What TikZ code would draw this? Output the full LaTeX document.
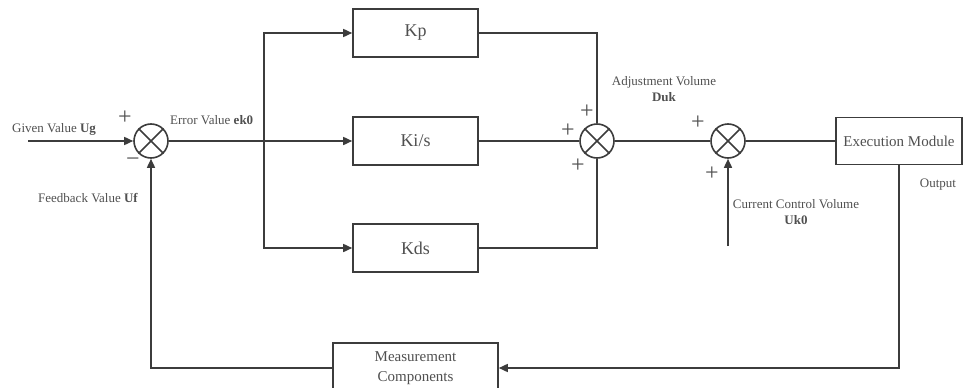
\documentclass[tikz,border=0pt]{standalone}
\usepackage{fontspec}
\setmainfont{Liberation Serif}
\usetikzlibrary{arrows.meta}
\definecolor{ink}{HTML}{3C3C3C}
\definecolor{txt}{HTML}{505050}
\begin{document}
\begin{tikzpicture}[x=1pt,y=-1pt,
  every node/.style={text=txt, inner sep=0pt},
  line/.style={draw=ink, line width=1.6pt},
  arr/.style={line, -{Triangle[length=9pt,width=8pt]}},
  blk/.style={line, fill=white, minimum height=48pt, align=center},
  kblk/.style={blk, minimum width=125pt, font=\fontsize{18}{20}\selectfont},
  sumj/.style={line, circle, minimum size=34pt},
  lbl/.style={font=\fontsize{13}{16}\selectfont, align=center},
  sgn/.style={font=\fontsize{24}{24}\selectfont}]
\useasboundingbox (0,0) rectangle (964,388);

% summing junctions
\node[sumj] (s1) at (151,141) {};
\node[sumj] (s2) at (597,141) {};
\node[sumj] (s3) at (728,141) {};
\foreach \s in {s1,s2,s3}{
  \draw[line] (\s.north west) -- (\s.south east);
  \draw[line] (\s.north east) -- (\s.south west);
}

% PID branches
\node[kblk] (kp) at (415.5,33) {Kp};
\node[kblk] (ki) at (415.5,141) {Ki/s};
\node[kblk] (kd) at (415.5,248) {Kds};

% plant and sensor
\node[blk, minimum width=126pt, minimum height=47pt, font=\fontsize{15}{17}\selectfont] (ex) at (899,141) {Execution Module};
\node[blk, minimum width=165pt, minimum height=50pt, font=\fontsize{15}{19}\selectfont] (ms) at (415.5,368) {Measurement\\[1pt]Components};

% free ends
\coordinate (in) at (28,141);
\coordinate (jn) at (264,141);
\coordinate (cc) at (728,246);

% connectors
\draw[arr] (in) -- (s1.west);
\draw[arr] (s1.east) -- (ki.west);
\draw[arr] (jn) |- (kp.west);
\draw[arr] (jn) |- (kd.west);
\draw[line] (kp.east) -| (s2.north);
\draw[line] (ki.east) -- (s2.west);
\draw[line] (kd.east) -| (s2.south);
\draw[line] (s2.east) -- (s3.west);
\draw[line] (s3.east) -- (ex.west);
\draw[arr] (cc) -- (s3.south);
\draw[arr] (ex.south) |- (ms.east);
\draw[arr] (ms.west) -| (s1.south);

% signs
\node[sgn] (p1) at (125,118) {+};
\node[sgn] (m1) at (133,162) {−};
\node[sgn] (p2a) at (587,112) {+};
\node[sgn] (p2b) at (568,131) {+};
\node[sgn] (p2c) at (578,166) {+};
\node[sgn] (p3a) at (698,123) {+};
\node[sgn] (p3b) at (712,174) {+};

% labels
\node[lbl, anchor=west] (lug) at (12,129) {Given Value \textbf{Ug}};
\node[lbl, anchor=west] (lek) at (170,120) {Error Value \textbf{ek0}};
\node[lbl, anchor=west] (luf) at (38,198) {Feedback Value \textbf{Uf}};
\node[lbl] (ldu) at (664,89) {Adjustment Volume\\\textbf{Duk}};
\node[lbl] (luk) at (796,212) {Current Control Volume\\\textbf{Uk0}};
\node[lbl] (lout) at (938,185) {Output};
\end{tikzpicture}
\end{document}
